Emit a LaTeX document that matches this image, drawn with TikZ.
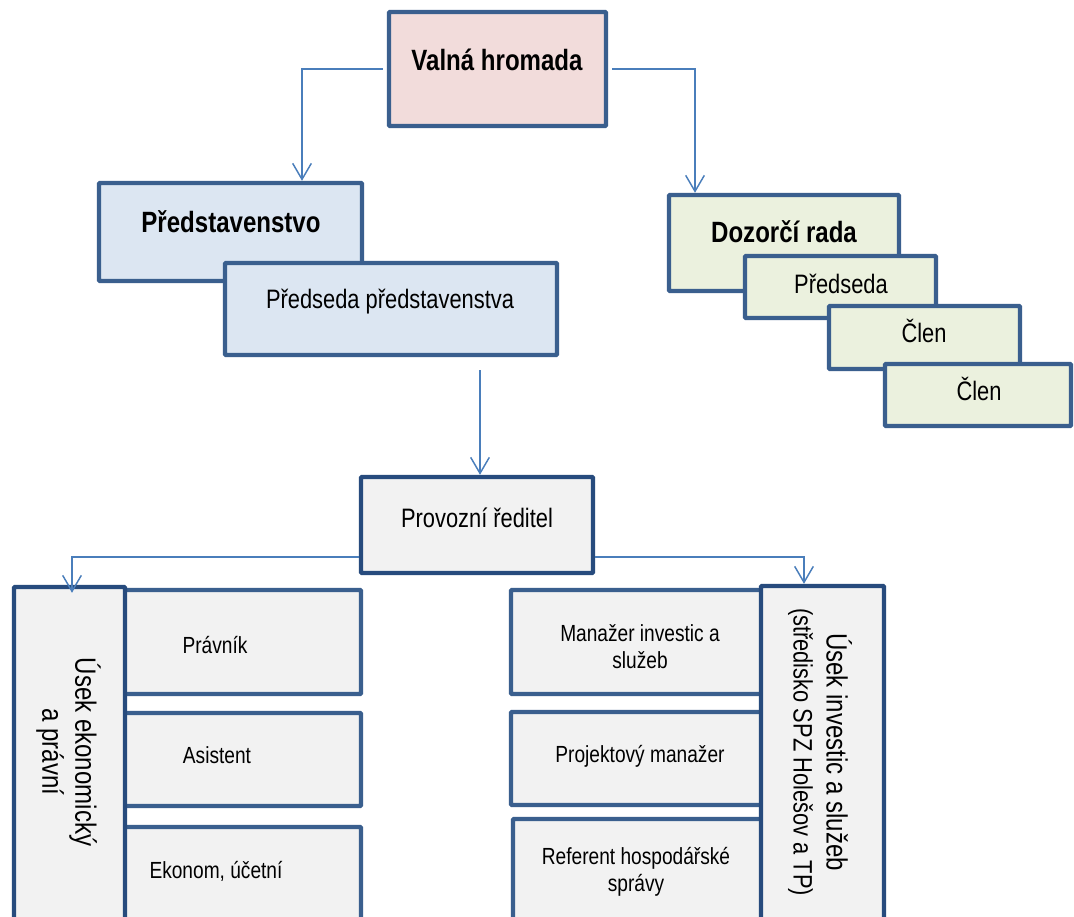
\documentclass[tikz,border=0pt]{standalone}
\usepackage{fontspec}
\setmainfont{Liberation Sans}[FakeStretch=0.82]
\usetikzlibrary{arrows.meta,fit}
\definecolor{bd}{HTML}{3A5F8E}
\definecolor{bdd}{HTML}{274B7D}
\definecolor{cn}{HTML}{4A7EBB}
\definecolor{fpink}{HTML}{F2DCDB}
\definecolor{fblue}{HTML}{DCE6F2}
\definecolor{fgreen}{HTML}{EBF1DE}
\definecolor{fgray}{HTML}{F2F2F2}
\begin{document}
\begin{tikzpicture}[x=0.75pt,y=-0.75pt,
  box/.style={draw=bd, line width=3.3pt, inner sep=0pt, rounded corners=0.8pt},
  dbox/.style={box, draw=bdd},
  conn/.style={draw=cn, line width=1.1pt, -{Straight Barb[length=12pt,width=14pt]}},
  tb/.style={font=\bfseries\fontsize{22}{26}\selectfont, anchor=base, inner sep=0pt},
  tr/.style={font=\fontsize{20}{24}\selectfont, anchor=base, inner sep=0pt},
  ts/.style={font=\fontsize{17.5}{20.5}\selectfont, inner sep=0pt, align=center},
  tv/.style={font=\fontsize{22}{24.75}\selectfont, inner sep=0pt, align=center, rotate=-90}]
\useasboundingbox (0,0) rectangle (1074,917);
\clip (0,0) rectangle (1074,917);
\fill[white] (0,0) rectangle (1074,917);

% top
\node[box, fill=fpink, fit={(389,12) (606,126)}] (vh) {};
\node[tb] (vht) at (497,70) {Valná hromada};

% left board
\node[box, fill=fblue, fit={(99,183) (362,281)}] (pr) {};
\node[tb] (prt) at (231,232) {Představenstvo};
\node[box, fill=fblue, fit={(225,263) (557,355)}] (pp) {};
\node[tr] (ppt) at (390,308) {Předseda představenstva};

% supervisory board
\node[box, fill=fgreen, fit={(669,195) (899,291)}] (dr) {};
\node[tb] (drt) at (784,242) {Dozorčí rada};
\node[box, fill=fgreen, fit={(745,256) (936,318)}] (dp) {};
\node[tr] (dpt) at (841,293) {Předseda};
\node[box, fill=fgreen, fit={(829,306) (1020,369)}] (c1) {};
\node[tr] (c1t) at (924,342) {Člen};
\node[box, fill=fgreen, fit={(885,364) (1071,426)}] (c2) {};
\node[tr] (c2t) at (979,400) {Člen};

% operations director
\node[dbox, fill=fgray, fit={(361,477) (593,573)}] (prov) {};
\node[tr] (provt) at (477,527) {Provozní ředitel};

% left department
\node[box, fill=fgray, fit={(70,590) (361,694)}] (pravnik) {};
\node[ts, anchor=base] (pravnikt) at (215,653) {Právník};
\node[box, fill=fgray, fit={(70,713) (361,806)}] (asist) {};
\node[ts, anchor=base] (asistt) at (217,763) {Asistent};
\node[box, fill=fgray, fit={(70,827) (361,930)}] (ekonom) {};
\node[ts, anchor=base] (ekonomt) at (216,878) {Ekonom, účetní};
\node[dbox, fill=fgray, fit={(14,587) (125,930)}] (ue) {};
\node[tv] (uet) at (68.5,752) {Úsek ekonomický\\a právní};

% right department
\node[box, fill=fgray, fit={(511,590) (769,694)}] (manaz) {};
\node[ts] (manazt) at (640,646.5) {Manažer investic a\\služeb};
\node[box, fill=fgray, fit={(511,712) (769,805)}] (proj) {};
\node[ts, anchor=base] (projt) at (640,762) {Projektový manažer};
\node[box, fill=fgray, fit={(513,819) (769,930)}] (ref) {};
\node[ts] (reft) at (636,872) {Referent hospodářské\\správy};
\node[dbox, fill=fgray, fit={(761,586) (884,930)}] (ui) {};
\node[tv] (uit) at (820,752) {Úsek investic a služeb\\{\fontsize{20}{24.75}\selectfont(středisko SPZ Holešov a TP)}};

% connectors
\coordinate (a1) at (302,69);
\coordinate (a2) at (695,69);
\coordinate (a3) at (480,370);
\coordinate (a4) at (72,557);
\coordinate (a5) at (804,557);
\draw[conn] ([xshift=-3pt]vh.west) -- (a1) -- (a1 |- pr.north);
\draw[conn] ([xshift=3pt]vh.east) -- (a2) -- (a2 |- dr.north);
\draw[conn] (a3) -- (a3 |- prov.north);
\draw[conn] (prov.west |- a4) -- (a4) -- ([yshift=-6pt]a4 |- ue.north);
\draw[conn] (prov.east |- a5) -- (a5) -- (a5 |- ui.north);
\end{tikzpicture}
\end{document}
